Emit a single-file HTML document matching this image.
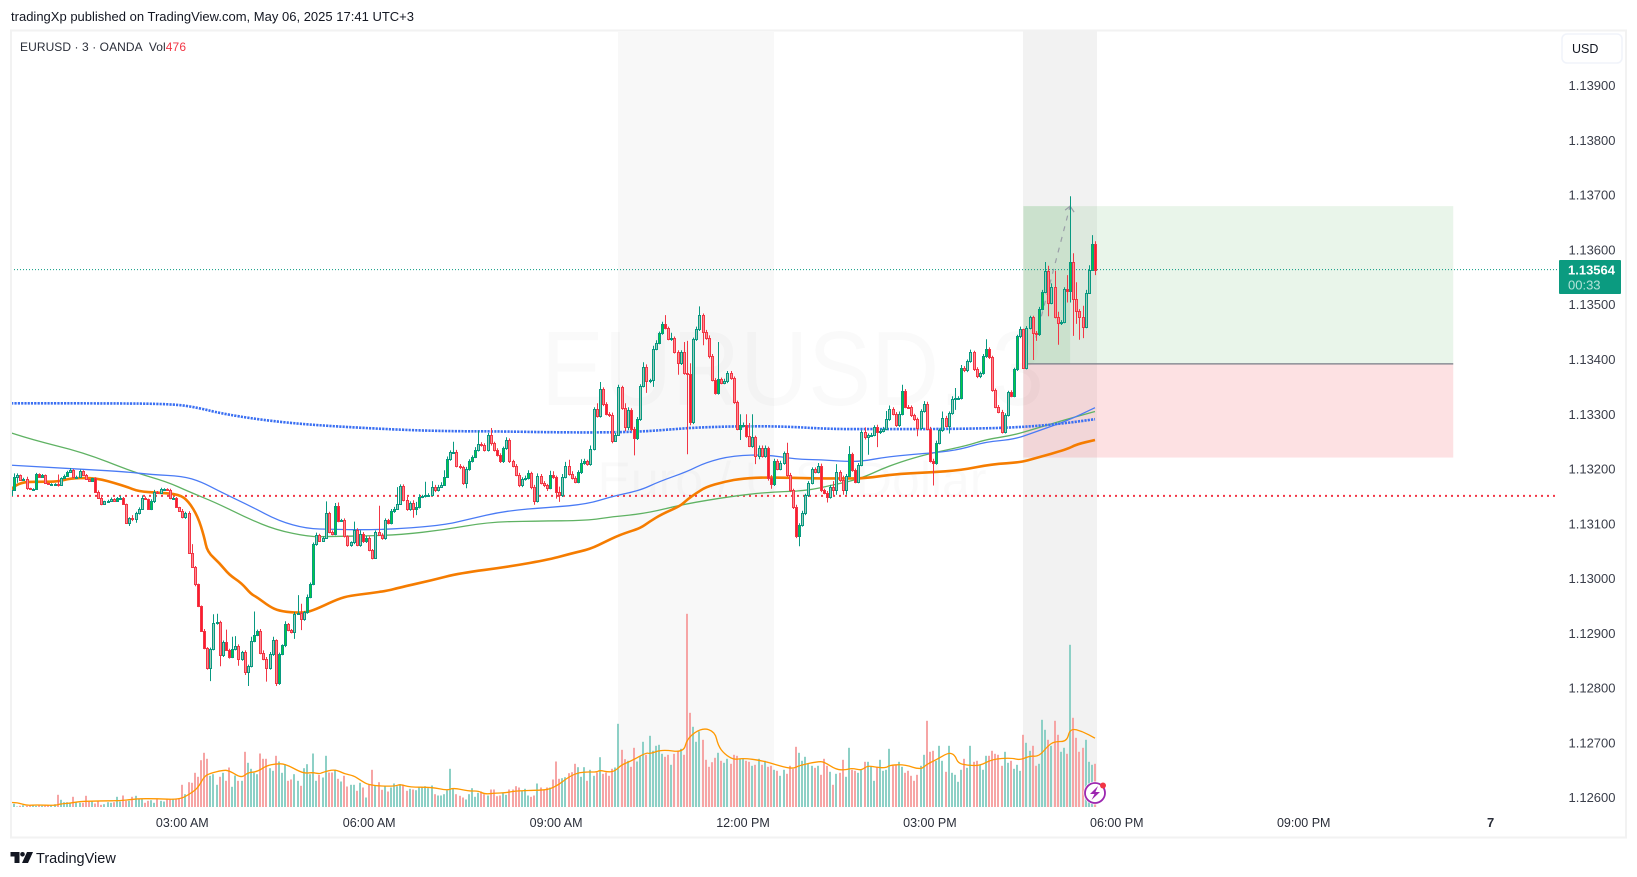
<!DOCTYPE html>
<html lang="en">
<head>
<meta charset="utf-8">
<title>EURUSD 3m chart</title>
<style>
html,body{margin:0;padding:0;background:#fff;width:1637px;height:877px;overflow:hidden}
svg{display:block;font-family:"Liberation Sans",sans-serif}
</style>
</head>
<body>
<svg id="chart" xmlns="http://www.w3.org/2000/svg" width="1637" height="877" viewBox="0 0 1637 877">
  <defs>
    <clipPath id="plot-clip"><rect x="12" y="31" width="1545" height="776"></rect></clipPath>
  </defs>
  <rect x="0" y="0" width="1637" height="877" fill="#ffffff"></rect>
  <text x="11" y="21" font-size="13" fill="#131722" textLength="403" lengthAdjust="spacing">tradingXp published on TradingView.com, May 06, 2025 17:41 UTC+3</text>
  <rect x="11" y="30.5" width="1615" height="807" fill="none" stroke="#f2f2f2" stroke-width="2"></rect>
  <rect x="618" y="31" width="156" height="776" fill="#f8f8f8"></rect>
  <rect x="1023" y="31" width="74" height="776" fill="#f2f2f2"></rect>
  <text x="541" y="405" font-size="106" textLength="503" lengthAdjust="spacingAndGlyphs" fill="#000000" fill-opacity="0.02">EURUSD, 3</text>
  <text x="792" y="497" font-size="50" text-anchor="middle" fill="#000000" fill-opacity="0.02">Euro / U.S. Dollar</text>
  <g id="position-layer"></g>
  <g id="volume-layer" clip-path="url(#plot-clip)"></g>
  <g id="level-layer" clip-path="url(#plot-clip)"></g>
  <g id="ma-layer" clip-path="url(#plot-clip)"></g>
  <g id="candle-layer" clip-path="url(#plot-clip)"></g>
  <g id="axis-layer"></g>
  <text x="20" y="51" font-size="12" fill="#2a2e39" xml:space="preserve" textLength="166" lengthAdjust="spacing">EURUSD · 3 · OANDA  Vol<tspan fill="#f23645">476</tspan></text>
  <rect x="1562" y="34" width="60" height="29" rx="5" fill="#ffffff" stroke="#f0f3fa" stroke-width="1.5"></rect>
  <text x="1572" y="53" font-size="12.5" fill="#131722">USD</text>
  <rect x="1559" y="260" width="62" height="34" rx="1" fill="#0b9b80"></rect>
  <text x="1568" y="274.5" font-size="13" font-weight="bold" fill="#ffffff">1.13564</text>
  <text x="1568" y="289.5" font-size="13" fill="#b5e3d9">00:33</text>
  <g>
    <circle cx="1095" cy="793" r="11.5" fill="#ffffff"></circle>
    <circle cx="1095" cy="793" r="10" fill="none" stroke="#9c27b0" stroke-width="1.8"></circle>
    <polygon points="1098,786 1090,794 1094.5,794 1091.5,800 1100,792 1095.5,792" fill="#9c27b0"></polygon>
    <circle cx="1103" cy="785.5" r="3" fill="#f23645"></circle>
  </g>
  <g>
    <polygon points="10.5,852 19.5,852 19.5,863 14.5,863 14.5,856.5 10.5,856.5" fill="#131722"></polygon>
    <circle cx="22.5" cy="854.3" r="2.3" fill="#131722"></circle>
    <polygon points="27,852 33,852 28,863 22,863" fill="#131722"></polygon>
    <text x="36" y="863" font-size="14.5" fill="#131722">TradingView</text>
  </g>
</svg>
<script>
// Price data is in points: 13564 means 1.13564. One bar is three minutes.
const closes = [
13162,13185,13189,13180,13182,13165,13163,13164,13191,13186,13189,13174,13172,13173,13173,13171,13183,13187,13195,13198,13186,13186,13196,13190,13181,
13179,13183,13159,13148,13136,13141,13142,13145,13142,13147,13148,13137,13101,13110,13108,13119,13127,13148,13145,13128,13142,13158,13156,13163,13163,
13162,13147,13148,13130,13124,13112,13120,13046,13022,12990,12950,12905,12873,12837,12872,12919,12920,12861,12885,12870,12857,12871,12877,12853,12866,
12829,12841,12886,12897,12905,12864,12854,12836,12863,12888,12809,12862,12878,12917,12906,12902,12936,12938,12926,12939,12967,12990,13063,13079,13069,
13075,13120,13086,13081,13133,13106,13107,13077,13061,13066,13089,13061,13082,13068,13075,13052,13038,13085,13080,13074,13107,13101,13123,13128,13137,
13169,13144,13127,13138,13127,13130,13149,13150,13153,13153,13168,13161,13168,13171,13186,13218,13231,13232,13206,13203,13174,13200,13214,13222,13235,
13246,13244,13235,13263,13247,13235,13226,13214,13238,13253,13214,13206,13190,13170,13182,13184,13192,13168,13142,13187,13175,13170,13166,13189,13185,
13158,13152,13186,13205,13191,13184,13177,13194,13211,13214,13209,13237,13310,13297,13346,13319,13301,13298,13252,13263,13349,13311,13276,13308,13274,
13256,13291,13352,13386,13360,13362,13420,13431,13448,13465,13457,13437,13439,13414,13393,13414,13375,13374,13285,13437,13455,13481,13451,13439,13406,
13363,13339,13364,13358,13360,13376,13366,13322,13273,13280,13280,13260,13243,13258,13223,13238,13224,13238,13184,13172,13215,13201,13211,13229,13189,
13161,13130,13077,13098,13119,13152,13175,13200,13195,13206,13161,13157,13149,13168,13161,13194,13180,13162,13188,13227,13198,13177,13208,13267,13259,
13262,13263,13277,13267,13270,13274,13291,13310,13301,13280,13301,13343,13314,13313,13298,13291,13275,13306,13319,13274,13215,13211,13248,13271,13294,
13279,13302,13328,13330,13330,13385,13380,13397,13413,13382,13369,13375,13406,13419,13404,13344,13314,13305,13268,13299,13340,13334,13382,13442,13456,
13385,13458,13477,13449,13446,13493,13524,13561,13503,13532,13478,13466,13469,13529,13525,13578,13511,13489,13478,13459,13522,13564,13610,13564];
const firstOpen = 13153;
// Wick length above the body top, in points.
const upperWicks = [
2,7,3,1,2,4,1,1,2,1,2,1,1,1,1,17,2,3,2,4,2,2,3,2,1,
1,1,2,2,1,1,2,3,2,2,3,1,0,2,6,3,3,4,2,1,3,4,2,3,2,
2,2,1,1,1,3,2,3,17,1,1,1,3,2,2,16,16,3,2,22,2,23,18,3,2,
3,2,8,43,2,3,5,3,3,6,1,3,2,5,2,2,3,32,16,2,4,3,3,5,3,
2,21,2,2,5,6,2,3,2,2,15,3,6,3,3,2,2,3,48,3,3,2,4,3,30,
3,3,5,3,5,10,5,3,24,3,10,3,3,5,12,5,3,18,3,3,3,4,4,3,5,
24,3,3,3,12,3,3,3,3,5,3,3,3,3,3,4,6,3,3,5,4,3,3,8,7,
3,10,5,8,12,5,3,4,7,5,3,6,3,10,13,3,3,3,5,3,5,3,9,5,3,
3,4,3,9,5,3,5,4,3,4,16,3,10,3,3,3,18,59,19,3,5,16,3,3,5,
4,3,68,3,5,3,3,3,3,20,5,20,24,42,3,5,5,5,3,5,4,3,4,3,19,
4,3,5,3,5,3,3,3,3,5,4,3,3,3,10,15,4,8,3,15,3,3,3,4,9,
3,3,3,4,4,3,15,6,3,3,4,11,3,3,3,3,3,3,5,4,3,4,4,3,11,
3,3,5,18,3,5,3,3,5,3,4,3,4,18,3,3,3,3,3,3,3,4,3,3,4,
0,3,3,3,3,3,3,17,10,7,30,9,3,3,25,120,16,30,3,20,5,8,17,6];
// Wick length below the body bottom, in points.
const lowerWicks = [
1,0,10,1,1,3,1,1,0,1,1,1,1,1,1,3,1,1,1,1,2,1,1,2,1,
1,1,1,1,2,1,1,1,2,1,1,1,0,5,3,6,2,1,1,2,3,4,1,1,1,
1,2,2,1,1,2,3,1,1,4,2,1,2,3,24,3,3,21,4,2,3,2,2,12,3,
5,25,3,2,2,2,3,24,2,4,5,3,2,3,2,2,12,2,20,3,3,3,2,3,2,
2,2,3,2,2,3,2,2,3,3,3,2,3,3,3,2,3,2,2,3,3,2,2,3,2,
0,3,3,3,16,11,2,2,2,2,3,3,2,2,2,2,3,2,3,3,3,9,3,2,2,
3,3,3,3,4,3,3,3,3,3,3,3,3,3,3,3,3,5,7,3,3,3,6,3,3,
12,12,3,3,3,3,3,3,3,3,3,3,3,3,3,4,3,3,5,2,2,3,7,5,5,
31,3,3,3,21,3,12,3,3,3,2,2,3,3,21,3,3,147,5,3,3,3,25,3,4,
3,3,3,3,3,3,3,3,2,20,3,3,3,4,14,5,3,3,5,8,3,3,3,3,3,
3,3,3,18,3,3,3,3,3,3,3,3,10,3,10,8,3,9,9,3,3,3,3,3,5,
33,3,3,27,3,3,3,3,3,3,3,3,3,3,3,3,15,3,3,3,3,41,3,3,3,
3,14,3,20,3,3,3,3,3,3,3,3,3,3,3,3,3,3,3,3,3,3,3,3,3,
0,3,3,50,12,3,3,3,24,2,3,39,3,3,21,21,68,24,42,20,2,0,0,10];
// Volume in relative units (about 3.6 ticks per unit).
const volumes = [
11,11,3,5,7,5,7,6,5,6,5,5,6,7,10,38,23,16,16,14,32,16,14,14,35,
18,18,12,18,8,10,16,14,16,32,18,36,20,20,32,35,26,24,14,20,22,14,24,20,18,
24,26,24,24,28,68,40,76,74,104,92,142,164,146,95,100,68,92,104,80,120,62,96,80,80,
167,134,116,104,100,162,146,146,118,110,155,138,104,130,80,84,100,80,65,118,130,100,162,80,98,
90,155,105,105,114,86,78,95,63,68,68,50,74,60,30,68,113,65,76,53,64,48,60,72,64,
70,68,50,56,54,52,62,60,64,58,66,40,36,36,40,52,116,58,40,35,30,24,40,58,32,
44,48,40,36,54,54,34,36,42,38,54,54,64,60,50,56,36,32,36,72,60,52,60,60,84,
138,86,88,91,103,106,131,121,92,121,80,113,95,105,151,101,105,95,116,120,251,173,145,140,122,
179,138,153,197,158,215,170,185,188,161,152,158,128,161,168,176,158,581,284,242,197,228,203,143,122,
136,149,164,140,134,146,131,158,155,146,146,140,137,125,128,146,128,140,122,125,113,110,95,113,101,
125,116,182,164,140,152,131,125,119,125,98,146,125,107,68,101,104,143,92,179,113,110,104,113,137,
137,122,80,122,143,110,113,176,125,128,137,122,104,110,95,80,98,125,158,260,167,170,140,185,140,
107,185,104,98,77,113,146,119,185,137,140,128,113,155,155,170,161,158,125,167,134,140,116,128,110,
218,194,170,185,125,131,263,233,203,185,260,218,167,179,161,488,269,209,167,179,203,137,128,131];

const orangeBars = [0,2,10,15,19,25,29,33,37,41,47,54,57,60,62,63,67,70,74,77,79,83,86,91,95,99,105,109,115,121,125,135,144,160,173,180,186,191,194,197,202,205,209,215,217,220,223,229,235,243,258,268,274,284,295,305,315,324,329,339,342,348];
const orangeValues = [13162,13176,13177,13177,13183,13184,13181,13175,13168,13159,13157,13154,13141,13113,13077,13049,13028,13007,12992,12972,12966,12949,12941,12938,12938,12947,12963,12969,12973,12978,12984,12997,13010,13022,13035,13046,13054,13068,13076,13083,13092,13104,13118,13133,13144,13156,13167,13177,13183,13185,13183,13183,13183,13191,13194,13198,13209,13212,13220,13236,13245,13253];
const blueBars = [0,19,37,45,55,61,67,77,86,95,103,114,125,139,146,159,173,185,193,202,208,217,223,232,243,252,260,268,273,281,290,297,305,313,322,329,339,348];
const blueValues = [13207,13201,13195,13190,13187,13177,13159,13132,13105,13091,13090,13089,13091,13098,13107,13124,13130,13136,13150,13161,13177,13195,13212,13225,13226,13218,13217,13214,13214,13222,13227,13230,13236,13250,13254,13268,13288,13312];
const greenBars = [0,7,23,39,50,57,66,76,85,96,103,114,125,139,153,168,185,193,204,216,231,243,255,264,273,281,290,298,307,313,322,329,339,348];
const greenValues = [13266,13253,13231,13195,13177,13159,13138,13110,13089,13076,13077,13078,13080,13089,13103,13105,13106,13113,13119,13136,13150,13158,13160,13171,13183,13204,13221,13232,13243,13254,13262,13274,13291,13305];
const dottedBars = [0,30,52,60,67,80,97,127,143,154,175,194,204,213,221,232,248,263,279,295,311,322,330,339,348];
const dottedValues = [13320,13320,13319,13312,13302,13290,13280,13271,13269,13269,13267,13267,13269,13273,13276,13278,13278,13273,13273,13273,13274,13276,13279,13284,13291];
const volMaBars = [0,2,5,8,14,16,19,22,29,35,41,47,54,57,60,62,64,68,70,74,76,79,82,85,88,93,95,97,99,100,104,107,110,112,115,123,125,128,135,140,142,147,150,152,155,159,162,170,173,176,178,181,184,188,189,192,194,196,199,204,205,209,216,217,222,226,227,229,232,235,241,247,251,253,259,261,265,268,270,273,275,278,281,282,287,292,294,297,301,303,304,307,311,315,321,324,327,330,333,335,339,340,344,348];
const volMaValues = [15,15,6,8,6,11,13,18,20,20,27,26,24,38,58,93,103,112,111,88,105,107,125,131,131,106,103,105,101,105,115,101,95,83,66,63,70,61,61,51,59,49,50,40,43,44,50,52,55,70,85,101,107,106,112,106,110,128,139,165,161,174,165,208,240,227,186,161,143,148,141,124,116,126,138,137,113,113,118,111,126,120,119,127,129,113,130,143,165,158,133,127,125,145,149,142,155,153,186,198,198,238,228,208];

const priceTicks = [13900,13800,13700,13600,13500,13400,13300,13200,13100,13000,12900,12800,12700,12600];
const timeTickBars = [55,115,175,235,295,355,415,475];
const timeTickLabels = ['03:00 AM','06:00 AM','09:00 AM','12:00 PM','03:00 PM','06:00 PM','09:00 PM','7'];
const lastPrice = 13564;
const supportLevel = 13151;
const targetPrice = 13680;
const entryPrice = 13392;
const stopPrice = 13221;
const entryBar = 325;
const exitBar = 463;
const arrowFromBar = 329;
const arrowFromPrice = 13440;
const arrowToBar = 340;
const arrowToPrice = 13680;

const SVG_NS = 'http://www.w3.org/2000/svg';
const barX = i => 11 + i * 3.115;
const priceY = p => 85.6 + (13900 - p) * 0.5478;
const volumeY = v => 807.5 - v / 3;

function make(tag, parentId, attrs) {
  const node = document.createElementNS(SVG_NS, tag);
  for (const key in attrs) node.setAttribute(key, attrs[key]);
  document.getElementById(parentId).appendChild(node);
  return node;
}

// Smooth path through the midpoints of the sampled series.
function seriesPath(bars, values, yFn) {
  const pts = bars.map((b, k) => [barX(b), yFn(values[k])]);
  let d = 'M' + pts[0][0].toFixed(1) + ' ' + pts[0][1].toFixed(1);
  for (let k = 1; k < pts.length - 1; k++) {
    const mx = (pts[k][0] + pts[k + 1][0]) / 2;
    const my = (pts[k][1] + pts[k + 1][1]) / 2;
    d += ' Q' + pts[k][0].toFixed(1) + ' ' + pts[k][1].toFixed(1) + ' ' + mx.toFixed(1) + ' ' + my.toFixed(1);
  }
  const last = pts[pts.length - 1];
  d += ' L' + last[0].toFixed(1) + ' ' + last[1].toFixed(1);
  return d;
}

// Position tool
const targetZone = make('rect', 'position-layer', {x: barX(entryBar), y: priceY(targetPrice), width: barX(exitBar) - barX(entryBar), height: priceY(entryPrice) - priceY(targetPrice), fill: '#4caf50', 'fill-opacity': 0.12});


const stopZone = make('rect', 'position-layer', {x: barX(entryBar), y: priceY(entryPrice), width: barX(exitBar) - barX(entryBar), height: priceY(stopPrice) - priceY(entryPrice), fill: '#f23645', 'fill-opacity': 0.15});


const reachedZone = make('rect', 'position-layer', {x: barX(entryBar), y: priceY(targetPrice), width: barX(340) - barX(entryBar), height: priceY(entryPrice) - priceY(targetPrice), fill: '#4caf50', 'fill-opacity': 0.12});


const entryLine = make('line', 'position-layer', {x1: barX(entryBar), x2: barX(exitBar), y1: priceY(entryPrice), y2: priceY(entryPrice), stroke: '#787b86', 'stroke-width': 1.2});


const pathLine = make('line', 'position-layer', {x1: barX(arrowFromBar), y1: priceY(arrowFromPrice), x2: barX(arrowToBar), y2: priceY(arrowToPrice), stroke: '#9a9ea8', 'stroke-width': 1.2, 'stroke-dasharray': '5 6'});


const pathHead = make('polyline', 'position-layer', {points: (barX(arrowToBar) - 5) + ',' + (priceY(arrowToPrice) + 4) + ' ' + barX(arrowToBar) + ',' + priceY(arrowToPrice) + ' ' + (barX(arrowToBar) + 4) + ',' + (priceY(arrowToPrice) + 6), fill: 'none', stroke: '#9a9ea8', 'stroke-width': 1.2});



// Volume bars
volumes.forEach((v, i) => {
  const open = i === 0 ? firstOpen : closes[i - 1];
  const bar = make('rect', 'volume-layer', {x: Math.round(barX(i) - 1), y: volumeY(v).toFixed(1), width: 2, height: (v / 3).toFixed(1), fill: closes[i] >= open ? '#8dd0c6' : '#f6a5a5'});
  
  
});
const volumeMa = make('path', 'volume-layer', {d: seriesPath(volMaBars, volMaValues, volumeY), fill: 'none', stroke: '#ff9800', 'stroke-width': 1.3, 'stroke-linejoin': 'round'});



// Horizontal levels
const supportLine = make('line', 'level-layer', {x1: 11, x2: 1557, y1: priceY(supportLevel), y2: priceY(supportLevel), stroke: '#f23645', 'stroke-width': 2, 'stroke-dasharray': '2 4'});


const lastPriceLine = make('line', 'level-layer', {x1: 11, x2: 1557, y1: priceY(lastPrice), y2: priceY(lastPrice), stroke: '#089981', 'stroke-width': 1, 'stroke-dasharray': '1 2'});



// Moving averages
const greenLine = make('path', 'ma-layer', {d: seriesPath(greenBars, greenValues, priceY), fill: 'none', stroke: '#5fb263', 'stroke-width': 1.3});


const blueLine = make('path', 'ma-layer', {d: seriesPath(blueBars, blueValues, priceY), fill: 'none', stroke: '#4a7bf5', 'stroke-width': 1.3});


const orangeLine = make('path', 'ma-layer', {d: seriesPath(orangeBars, orangeValues, priceY), fill: 'none', stroke: '#f57c00', 'stroke-width': 2.6});


const dottedLine = make('path', 'ma-layer', {d: seriesPath(dottedBars, dottedValues, priceY), fill: 'none', stroke: '#3a6ff2', 'stroke-width': 2.6, 'stroke-dasharray': '2.2 1.1'});



// Candles
closes.forEach((close, i) => {
  const open = i === 0 ? firstOpen : closes[i - 1];
  const top = Math.max(open, close);
  const bottom = Math.min(open, close);
  const high = top + (upperWicks[i] || 0);
  const low = bottom - (lowerWicks[i] || 0);
  const up = close >= open;
  const edge = up ? '#089981' : '#f23645';
  const x = barX(i);
  const frac = x - Math.floor(x);
  const bright = frac < 0.18 || frac > 0.88;
  const fill = up ? (bright ? '#00cc44' : '#9ccab9') : (bright ? '#ff1a2d' : '#ff8a92');
  const cx = Math.round(x);
  const wick = make('line', 'candle-layer', {x1: cx + 0.5, x2: cx + 0.5, y1: priceY(high).toFixed(1), y2: priceY(low).toFixed(1), stroke: edge, 'stroke-width': 1});
  
  
  const yTop = Math.round(priceY(top));
  const height = Math.max(1, Math.round(priceY(bottom)) - yTop);
  const body = make('rect', 'candle-layer', {x: cx - 0.5, y: yTop + 0.5, width: 2, height: height, fill: fill, stroke: edge, 'stroke-width': 1});
  
  
});

// Axes
priceTicks.forEach(p => {
  const label = make('text', 'axis-layer', {x: 1592, y: (priceY(p) + 4.5).toFixed(1), 'font-size': 13, 'text-anchor': 'middle', fill: '#3a3e4a'});
  
  
  label.textContent = (1 + p / 100000).toFixed(5);
});
timeTickBars.forEach((b, k) => {
  const isDay = timeTickLabels[k] === '7';
  const label = make('text', 'axis-layer', {x: barX(b).toFixed(1), y: 827, 'font-size': isDay ? 13 : 12.5, 'font-weight': isDay ? 'bold' : 'normal', 'text-anchor': 'middle', fill: '#2a2e39'});
  
  
  label.textContent = timeTickLabels[k];
});
</script>
</body>
</html>
